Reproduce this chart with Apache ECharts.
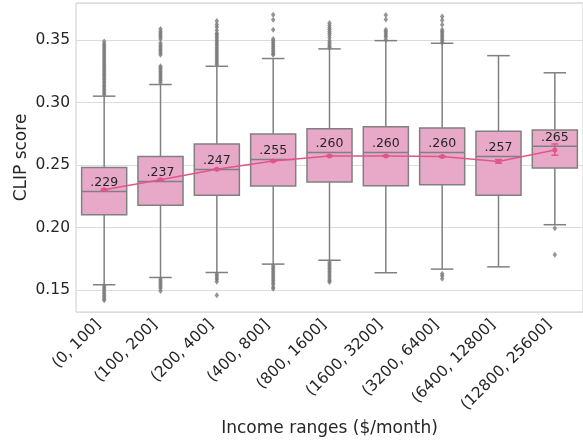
<!DOCTYPE html>
<html>
<head>
<meta charset="utf-8">
<script src="https://cdn.jsdelivr.net/npm/echarts@6/dist/echarts.min.js"></script>
<style>
html,body{margin:0;padding:0;background:#fff;}
#chart{width:583px;height:442px;}
</style>
</head>
<body>
<div id="chart"></div>
<script>
const categories = ['(0, 100]','(100, 200]','(200, 400]','(400, 800]','(800, 1600]','(1600, 3200]','(3200, 6400]','(6400, 12800]','(12800, 25600]'];
const whiskerLow  = [0.1544,0.1602,0.1642,0.1709,0.1740,0.1640,0.1669,0.1687,0.2024];
const q1          = [0.2104,0.2179,0.2259,0.2333,0.2365,0.2335,0.2343,0.2259,0.2478];
const median      = [0.2290,0.2370,0.2466,0.2545,0.2601,0.2601,0.2601,0.2569,0.2651];
const q3          = [0.2482,0.2569,0.2670,0.2749,0.2792,0.2808,0.2797,0.2771,0.2781];
const whiskerHigh = [0.3052,0.3145,0.3291,0.3353,0.3430,0.3496,0.3475,0.3376,0.3239];
const medianLabels = ['.229','.237','.247','.255','.260','.260','.260','.257','.265'];
const mean     = [0.2303,0.2383,0.2468,0.2534,0.2574,0.2574,0.2569,0.2529,0.2622];
const meanLow  = [0.2298,0.2379,0.2464,0.2530,0.2570,0.2570,0.2564,0.2516,0.2580];
const meanHigh = [0.2308,0.2387,0.2472,0.2538,0.2578,0.2578,0.2574,0.2545,0.2670];
const outliers = [
  [0.3065,0.308,0.3095,0.311,0.3125,0.314,0.3155,0.317,0.3185,0.320,0.3215,0.323,0.3245,0.326,0.3275,0.329,0.3305,0.332,0.3335,0.335,0.3365,0.338,0.3395,0.341,0.3425,0.344,0.3455,0.347,0.349,
   0.1535,0.152,0.1505,0.149,0.1475,0.146,0.1445,0.143,0.1419],
  [0.3160,0.3175,0.319,0.3205,0.322,0.3235,0.325,0.3265,0.328,0.3291,0.3384,0.340,0.3415,0.343,0.3445,0.346,0.3478,0.3509,0.3525,0.354,0.3555,0.357,0.3589,
   0.1590,0.1575,0.156,0.1545,0.153,0.1515,0.1494],
  [0.3305,0.332,0.3335,0.335,0.3365,0.338,0.3395,0.341,0.3425,0.344,0.3455,0.347,0.3485,0.350,0.3515,0.353,0.3545,0.3555,0.358,0.3605,0.3625,0.3653,
   0.1630,0.1615,0.160,0.1585,0.1568,0.1459],
  [0.3384,0.339,0.3405,0.342,0.3435,0.345,0.3465,0.348,0.3495,0.3509,0.3583,0.3663,0.3703,
   0.1695,0.168,0.1665,0.165,0.1635,0.162,0.1605,0.159,0.1575,0.156,0.1545,0.1524,0.1512],
  [0.3440,0.345,0.3465,0.348,0.3495,0.352,0.354,0.3555,0.357,0.3585,0.360,0.3618,0.3637,
   0.1725,0.171,0.1695,0.168,0.1665,0.165,0.1635,0.162,0.1605,0.159,0.1575,0.1565],
  [0.3504,0.3525,0.354,0.3555,0.357,0.3583,0.3665,0.3702],
  [0.348,0.3495,0.351,0.3525,0.354,0.3555,0.357,0.3583,0.3624,0.3660,0.3690,
   0.1632,0.1615,0.1592],
  [],
  [0.1996,0.1783]
];

const boxFill = '#e8a9c9';
const edge = '#808080';
const lineColor = '#e0568a';
const textColor = '#262626';
const font = 'DejaVu Sans';

const boxData = categories.map((c,i)=>[i, whiskerLow[i], q1[i], median[i], q3[i], whiskerHigh[i]]);
const outlierData = [];
outliers.forEach((arr,i)=>arr.forEach(v=>outlierData.push([i, v])));
const labelData = categories.map((c,i)=>[i, median[i], medianLabels[i]]);
const errData = categories.map((c,i)=>[i, meanLow[i], meanHigh[i]]);

function renderBox(params, api){
  const x = api.value(0);
  const lo = api.coord([x, api.value(1)]);
  const a = api.coord([x, api.value(2)]);
  const m = api.coord([x, api.value(3)]);
  const b = api.coord([x, api.value(4)]);
  const hi = api.coord([x, api.value(5)]);
  const band = api.size([1,0])[0];
  const w = band*0.8, hw = w/2, cw = w/4;
  const cx = lo[0];
  const ls = {stroke: edge, lineWidth: 1.5};
  return {type:'group', children:[
    {type:'line', shape:{x1:cx,y1:lo[1],x2:cx,y2:a[1]}, style:ls},
    {type:'line', shape:{x1:cx,y1:b[1],x2:cx,y2:hi[1]}, style:ls},
    {type:'line', shape:{x1:cx-cw,y1:lo[1],x2:cx+cw,y2:lo[1]}, style:ls},
    {type:'line', shape:{x1:cx-cw,y1:hi[1],x2:cx+cw,y2:hi[1]}, style:ls},
    {type:'rect', shape:{x:cx-hw,y:b[1],width:w,height:a[1]-b[1]}, style:{fill:boxFill, stroke:edge, lineWidth:1.5}},
    {type:'line', shape:{x1:cx-hw,y1:m[1],x2:cx+hw,y2:m[1]}, style:ls}
  ]};
}
function renderLabel(params, api){
  const p = api.coord([api.value(0), api.value(1)]);
  return {type:'text', x:p[0], y:p[1]-9, style:{text: labelData[params.dataIndex][2], fill:textColor, font:'12.5px "DejaVu Sans"', align:'center', verticalAlign:'middle'}};
}
function renderErr(params, api){
  const x = api.value(0);
  const lo = api.coord([x, api.value(1)]);
  const hi = api.coord([x, api.value(2)]);
  const cx = lo[0];
  const st = {stroke: lineColor, lineWidth: 1.5};
  return {type:'group', children:[
    {type:'line', shape:{x1:cx,y1:lo[1],x2:cx,y2:hi[1]}, style:st},
    {type:'line', shape:{x1:cx-3.5,y1:lo[1],x2:cx+3.5,y2:lo[1]}, style:st},
    {type:'line', shape:{x1:cx-3.5,y1:hi[1],x2:cx+3.5,y2:hi[1]}, style:st}
  ]};
}

const chart = echarts.init(document.getElementById('chart'), null, {renderer:'canvas'});
chart.setOption({
  animation:false,
  backgroundColor:'#ffffff',
  textStyle:{fontFamily:font},
  grid:{left:76, top:3, width:510, height:310, show:true, borderColor:'#cccccc', borderWidth:1, backgroundColor:'transparent'},
  xAxis:{
    type:'category', data:categories, boundaryGap:true,
    axisLine:{show:false}, axisTick:{show:false}, splitLine:{show:false},
    axisLabel:{rotate:45, fontSize:15.5, color:textColor, fontFamily:font, margin:16, verticalAlign:'bottom', interval:0},
    name:'Income ranges ($/month)', nameLocation:'middle', nameGap:108, nameMoveOverlap:false,
    nameTextStyle:{fontSize:17, color:textColor, fontFamily:font}
  },
  yAxis:{
    type:'value', min:0.1326, max:0.3797, splitNumber:5,
    axisLine:{show:false}, axisTick:{show:false},
    splitLine:{show:true, lineStyle:{color:'#dcdcdc', width:1}},
    axisLabel:{fontSize:15.5, color:textColor, fontFamily:font, margin:6, showMinLabel:false, showMaxLabel:false,
      formatter:v=>v.toFixed(2)},
    name:'CLIP score', nameLocation:'middle', nameGap:46, nameRotate:90, nameMoveOverlap:false,
    nameTextStyle:{fontSize:17, color:textColor, fontFamily:font}
  },
  series:[
    {type:'custom', name:'box', data:boxData, renderItem:renderBox, encode:{x:0, y:[1,2,3,4,5]}, z:2, silent:true},
    {type:'scatter', name:'outliers', data:outlierData, symbol:'diamond', symbolSize:[4.5,6], itemStyle:{color:'#7a7a7a'}, z:3, silent:true},
    {type:'line', name:'mean', data:mean, symbol:'circle', symbolSize:5, showSymbol:true, lineStyle:{color:lineColor, width:1.5}, itemStyle:{color:lineColor}, z:4, silent:true},
    {type:'custom', name:'err', data:errData, renderItem:renderErr, encode:{x:0, y:[1,2]}, z:5, silent:true},
    {type:'custom', name:'labels', data:labelData.map(d=>[d[0], d[1]]), renderItem:renderLabel, encode:{x:0, y:1}, z:6, silent:true}
  ]
});
</script>
</body>
</html>
